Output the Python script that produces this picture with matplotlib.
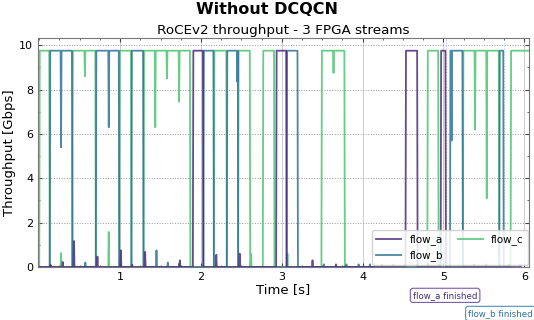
import matplotlib
matplotlib.use("Agg")  # headless
import matplotlib.pyplot as plt
from matplotlib.ticker import AutoMinorLocator
import matplotlib.transforms as mtransforms

# Throughput plateau (Gbps) when a flow owns the link
LINE_RATE = 9.75

# "on" periods per flow (start [s], end [s])
flow_a_blocks = [(1.90, 2.03), (2.93, 3.06), (4.53, 4.68), (4.965, 5.03)]
flow_b_blocks = [(0.13, 0.41), (0.70, 0.99), (1.14, 1.29), (2.03, 2.16),
                 (2.32, 2.46), (3.06, 3.20), (5.08, 5.24), (5.69, 5.745)]
flow_c_blocks = [(0.0, 0.13), (0.41, 0.70), (0.99, 1.14), (1.29, 1.87),
                 (2.16, 2.32), (2.46, 2.61), (2.765, 2.91), (3.49, 3.78),
                 (4.80, 4.94), (5.24, 5.69), (5.83, 6.10)]

# dips while a flow is on (time, value)
flow_a_dips = []
flow_b_dips = [(0.27, 5.4), (0.86, 6.3), (2.45, 8.35), (5.10, 5.7)]
flow_c_dips = [(0.565, 8.6), (1.435, 6.3), (1.58, 8.5), (1.73, 7.45),
               (3.64, 8.75), (5.39, 6.2), (5.535, 3.1)]

# small bursts while a flow is paused (time, value)
flow_a_spikes = [(0.14, 0.1), (0.29, 0.23), (0.43, 1.17), (0.72, 0.47),
                 (1.01, 0.75), (1.15, 0.1), (1.31, 0.68), (1.74, 0.3),
                 (2.19, 0.55), (2.48, 0.6), (3.38, 0.3), (3.67, 0.12),
                 (4.24, 0.1), (4.81, 0.15), (5.53, 0.12), (5.95, 0.1)]
flow_b_spikes = [(0.57, 0.2), (1.45, 0.75), (1.59, 0.2), (1.73, 0.15),
                 (3.52, 0.12), (3.80, 0.12), (3.95, 0.12), (4.09, 0.12),
                 (4.38, 0.12), (4.52, 0.12), (4.67, 0.12), (4.95, 0.12),
                 (5.38, 0.12), (5.81, 0.12)]
flow_c_spikes = [(0.27, 0.63), (0.86, 1.58), (2.62, 0.6), (3.07, 0.6)]

FLOW_A_DONE = 5.03
FLOW_B_DONE = 5.745

COLORS = {"flow_a": "#4a2a7e", "flow_b": "#2f7199", "flow_c": "#4cc36e"}


def build_trace(blocks, dips, spikes, ramp=0.006):
    """Turn on-periods / dips / spikes into a time series."""
    pts = [(0.0, 0.0)]
    for s, e in blocks:
        pts += [(s, 0.0), (s + ramp, LINE_RATE)]
        for t, v in dips:
            if s < t < e:
                pts += [(t - ramp, LINE_RATE), (t, v), (t + ramp, LINE_RATE)]
        pts += [(e - ramp, LINE_RATE), (e, 0.0)]
    for t, v in spikes:
        pts += [(t - ramp, 0.0), (t, v), (t + ramp, 0.0)]
    pts.sort(key=lambda p: p[0])
    return [p[0] for p in pts], [p[1] for p in pts]


fig = plt.figure(figsize=(5.34, 3.2), dpi=100)
ax = fig.add_axes([0.0712, 0.1656, 0.9198, 0.7141])

flows = [
    ("flow_a", flow_a_blocks, flow_a_dips, flow_a_spikes),
    ("flow_b", flow_b_blocks, flow_b_dips, flow_b_spikes),
    ("flow_c", flow_c_blocks, flow_c_dips, flow_c_spikes),
]
# draw green first so purple/blue sit on top like the original
for name, blocks, dips, spikes in reversed(flows):
    t, v = build_trace(blocks, dips, spikes)
    ax.plot(t, v, color=COLORS[name], lw=1.3, alpha=0.85, label=name)

# finish markers
ax.axvline(FLOW_A_DONE, color=COLORS["flow_a"], lw=0.8, ls=":", alpha=0.35)
ax.axvline(FLOW_B_DONE, color=COLORS["flow_b"], lw=0.8, ls=":", alpha=0.35)
trans = mtransforms.blended_transform_factory(ax.transData, ax.transAxes)
ax.text(FLOW_A_DONE - 0.01, -0.124, "flow_a finished", transform=trans,
        ha="center", va="center", fontsize=6.2, color=COLORS["flow_a"],
        clip_on=False,
        bbox=dict(boxstyle="round,pad=0.3", fc="white", ec="#7d5aa6", lw=0.8))
# label sits a bit left of the line so the text stays inside the figure
ax.text(FLOW_B_DONE - 0.04, -0.203, "flow_b finished", transform=trans,
        ha="center", va="center", fontsize=6.2, color=COLORS["flow_b"],
        clip_on=False,
        bbox=dict(boxstyle="round,pad=0.3", fc="white", ec="#4f93b5", lw=0.8))

ax.set_xlim(-0.015, 6.06)
ax.set_ylim(0, 10.3)
ax.set_xticks([1, 2, 3, 4, 5, 6])
ax.set_yticks([0, 2, 4, 6, 8, 10])
ax.xaxis.set_minor_locator(AutoMinorLocator(4))
ax.yaxis.set_minor_locator(AutoMinorLocator(2))
ax.tick_params(which="both", direction="in", top=True, right=True,
               labelsize=8, colors="#444444", labelcolor="black")
ax.tick_params(which="major", length=3)
ax.tick_params(which="minor", length=1.5)
for sp in ax.spines.values():
    sp.set_color("#777777")

ax.grid(axis="x", ls="-", color="#cccccc", lw=0.7)
ax.grid(axis="y", ls=":", color="#999999", lw=0.7)
ax.set_axisbelow(True)

ax.set_xlabel("Time [s]", fontsize=9.5, labelpad=1)
ax.set_ylabel("Throughput [Gbps]", fontsize=9.5, labelpad=2)
ax.set_title("RoCEv2 throughput - 3 FPGA streams", fontsize=9.7, pad=3)
fig.suptitle("Without DCQCN", fontsize=11.5, fontweight="bold", y=0.995)

# legend order flow_a, flow_b | flow_c
handles, labels = ax.get_legend_handles_labels()
order = [labels.index(n) for n in ("flow_a", "flow_b", "flow_c")]
ax.legend([handles[i] for i in order], [labels[i] for i in order],
          loc="lower right", ncol=2, fontsize=7.5, framealpha=0.85,
          handlelength=2.4, columnspacing=1.4, borderaxespad=0.15)

fig.savefig("out.png", dpi=100)
